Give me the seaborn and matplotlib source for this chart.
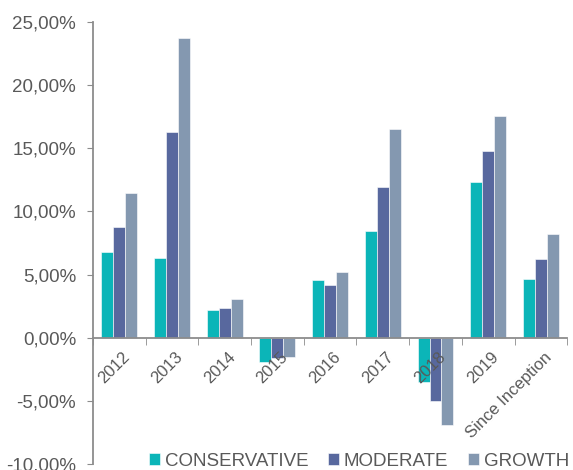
import pandas as pd
import seaborn as sns
import matplotlib.pyplot as plt
import matplotlib.transforms as mtrans
from matplotlib.ticker import FuncFormatter, FixedLocator

categories = ['2012', '2013', '2014', '2015', '2016', '2017', '2018', '2019', 'Since Inception']
conservative = [6.8, 6.3, 2.2, -1.9, 4.6, 8.45, -3.55, 12.35, 4.65]
moderate = [8.8, 16.3, 2.35, -1.65, 4.2, 11.95, -5.05, 14.8, 6.25]
growth = [11.45, 23.75, 3.1, -1.5, 5.2, 16.5, -6.95, 17.55, 8.2]
series = ['CONSERVATIVE', 'MODERATE', 'GROWTH']
colors = ['#0BB5B8', '#58689E', '#8498B0']

df = pd.DataFrame({
    'period': categories * 3,
    'value': conservative + moderate + growth,
    'fund': [s for s in series for _ in categories],
})

sns.set_style('white')
plt.rcParams['font.family'] = ['Liberation Sans', 'DejaVu Sans']
grey = '#595959'

fig = plt.figure(figsize=(5.73, 4.70), dpi=100)
ax = fig.add_axes([0.162, 0.013, 0.828, 0.94])

sns.barplot(data=df, x='period', y='value', hue='fund', palette=colors, saturation=1,
            width=0.68, gap=0, ax=ax, edgecolor='white', linewidth=0.4)
ax.set_axisbelow(False)

ax.set_ylim(-10, 25)
ax.set_xlim(-0.5, len(categories) - 0.5)
ax.yaxis.set_major_locator(FixedLocator([-10, -5, 0, 5, 10, 15, 20, 25]))
ax.yaxis.set_major_formatter(FuncFormatter(lambda v, p: f'{v:.2f}%'.replace('.', ',')))
ax.set_xlabel('')
ax.set_ylabel('')

for s in ['top', 'right']:
    ax.spines[s].set_visible(False)
for s in ['left', 'bottom']:
    ax.spines[s].set_color('#8c8c8c')
    ax.spines[s].set_linewidth(1.3)
ax.spines['bottom'].set_position(('data', 0))

ax.tick_params(axis='y', left=True, length=4, color='#8c8c8c', labelsize=13.5, labelcolor=grey, pad=8)
ax.set_xticks([i - 0.5 for i in range(len(categories) + 1)], minor=True)
ax.tick_params(axis='x', which='minor', bottom=True, length=5, color='#8c8c8c')
ax.tick_params(axis='x', which='major', bottom=False, labelsize=12, labelcolor=grey, pad=5)
ax.set_xticks(range(len(categories)))
ax.set_xticklabels(categories, rotation=45, ha='right', rotation_mode='anchor')
offset = mtrans.ScaledTranslation(2 / 72, 0, fig.dpi_scale_trans)
for lbl in ax.get_xticklabels():
    lbl.set_transform(lbl.get_transform() + offset)

ax.legend(loc='lower right', bbox_to_anchor=(1.02, -0.03), ncol=3, frameon=False,
          fontsize=13.5, labelcolor=grey, handlelength=0.6, handleheight=0.6,
          handletextpad=0.25, columnspacing=1.05, borderaxespad=0)

fig.savefig('out.png', dpi=100)
